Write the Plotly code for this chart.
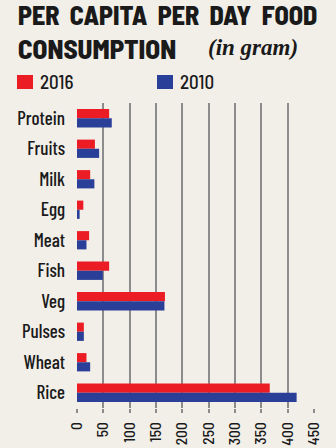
import plotly.graph_objects as go

categories = ["Protein", "Fruits", "Milk", "Egg", "Meat", "Fish", "Veg", "Pulses", "Wheat", "Rice"]
values_2016 = [61, 34, 25, 12, 23, 61, 167, 13, 18, 366]
values_2010 = [66, 42, 33, 5, 18, 49, 166, 13, 25, 417]
x_ticks = [0, 50, 100, 150, 200, 250, 300, 350, 400, 450]
series_names = ["2016", "2010"]

BG = "#f2efe9"
RED = "#ec1c24"
BLUE = "#2a3f97"
GRID = "#8c8c8c"
TXT = "#1a1a1a"
COND = "Barlow Condensed, DejaVu Sans Condensed, sans-serif"
SEMI = "Barlow Semi Condensed, Barlow Condensed, DejaVu Sans Condensed, sans-serif"

W, H = 336, 448
ML, MR, MT, MB = 77, 22, 103, 40
PW, PH = W - ML - MR, H - MT - MB


def px(x):
    return (x - ML) / PW


def py(y):
    return (H - MB - y) / PH


fig = go.Figure()
fig.add_trace(go.Bar(y=categories, x=values_2016, orientation="h", name=series_names[0],
                     marker=dict(color=RED, line=dict(width=0))))
fig.add_trace(go.Bar(y=categories, x=values_2010, orientation="h", name=series_names[1],
                     marker=dict(color=BLUE, line=dict(width=0))))

shapes = [
    dict(type="rect", xref="paper", yref="paper", x0=px(17), x1=px(33), y0=py(89), y1=py(75),
         fillcolor=RED, line=dict(width=0)),
    dict(type="rect", xref="paper", yref="paper", x0=px(157), x1=px(173), y0=py(89), y1=py(75),
         fillcolor=BLUE, line=dict(width=0)),
]

title1 = " \u2009".join(["PER", "CAPITA", "PER", "DAY", "FOOD"])

annotations = [
    dict(text=title1, xref="paper", yref="paper",
         x=px(16), y=py(14), xanchor="left", yanchor="middle", showarrow=False,
         font=dict(family=SEMI, size=26, color=TXT, weight=800)),
    dict(text="CONSUMPTION", xref="paper", yref="paper",
         x=px(16), y=py(48), xanchor="left", yanchor="middle", showarrow=False,
         font=dict(family=SEMI, size=27, color=TXT, weight=800)),
    dict(text="<b><i>(in gram)</i></b>", xref="paper", yref="paper",
         x=px(206), y=py(47), xanchor="left", yanchor="middle", showarrow=False,
         font=dict(family="Liberation Serif, serif", size=23, color=TXT)),
    dict(text=series_names[0], xref="paper", yref="paper",
         x=px(38), y=py(82), xanchor="left", yanchor="middle", showarrow=False,
         font=dict(family=SEMI, size=19, color=TXT, weight=500)),
    dict(text=series_names[1], xref="paper", yref="paper",
         x=px(178), y=py(82), xanchor="left", yanchor="middle", showarrow=False,
         font=dict(family=SEMI, size=19, color=TXT, weight=500)),
]

fig.update_layout(
    width=W, height=H,
    margin=dict(l=ML, r=MR, t=MT, b=MB),
    paper_bgcolor=BG, plot_bgcolor=BG,
    barmode="group", bargap=0.4, bargroupgap=0,
    showlegend=False,
    xaxis=dict(range=[0, 450], tickvals=x_ticks, ticktext=[str(v) for v in x_ticks],
               tickangle=-90, showgrid=True, gridcolor=GRID, gridwidth=2,
               zeroline=False, showline=False, automargin=False,
               ticks="outside", ticklen=4, tickwidth=2, tickcolor=GRID, ticklabelstandoff=3,
               tickfont=dict(family=SEMI, size=15.5, color=TXT, weight=500), fixedrange=True),
    yaxis=dict(categoryorder="array", categoryarray=categories, autorange="reversed",
               showgrid=False, zeroline=False, showline=False, ticks="", automargin=False,
               tickfont=dict(family=COND, size=19, color=TXT, weight=500), ticklabelstandoff=11),
    shapes=shapes,
    annotations=annotations,
)

fig.write_html("out.html")
